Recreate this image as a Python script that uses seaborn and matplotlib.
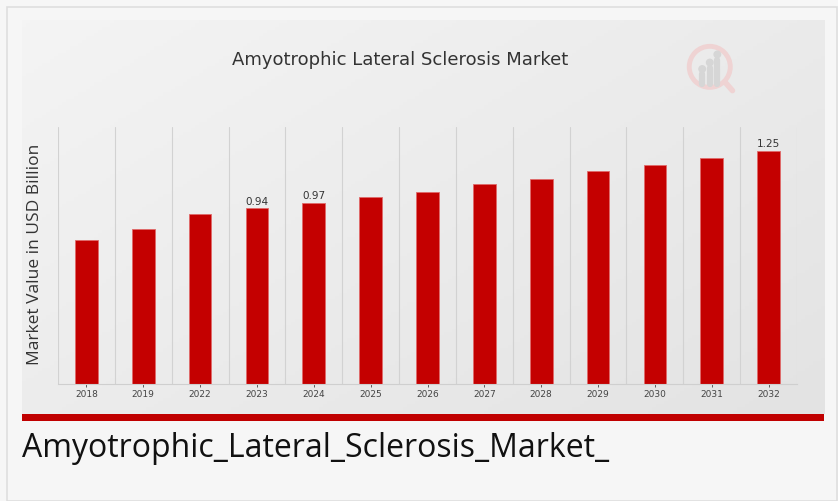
import numpy as np
import pandas as pd
import matplotlib
matplotlib.use("Agg")
import matplotlib.pyplot as plt
from matplotlib.patches import Rectangle, Circle
import seaborn as sns

# datos del grafico
years = ["2018", "2019", "2022", "2023", "2024", "2025", "2026",
         "2027", "2028", "2029", "2030", "2031", "2032"]
values = [0.77, 0.83, 0.91, 0.94, 0.97, 1.00, 1.03,
          1.07, 1.10, 1.14, 1.17, 1.21, 1.25]
shown = {"2023": "0.94", "2024": "0.97", "2032": "1.25"}

titulo = "Amyotrophic Lateral Sclerosis Market"
ylab = "Market Value in USD Billion"
pie = "Amyotrophic_Lateral_Sclerosis_Market_"

df = pd.DataFrame({"year": years, "value": values})

sns.set_theme(style="white")
plt.rcParams["font.family"] = ["DejaVu Sans"]

W, H = 838, 501
fig = plt.figure(figsize=(W / 100, H / 100), dpi=100)
fig.patch.set_facecolor("#f6f6f6")

def px(x0, y0, x1, y1):
    # caja en pixeles -> coordenadas de figura
    return [x0 / W, 1 - y1 / H, (x1 - x0) / W, (y1 - y0) / H]

# borde exterior
fig.patches.append(Rectangle((7 / W, 0), 1 - 8 / W, 1 - 7 / H, transform=fig.transFigure,
                             facecolor="none", edgecolor="#dedede", lw=1.2, zorder=0))

# panel con degradado
bg = fig.add_axes(px(22, 20, 824, 414), zorder=0)
gx, gy = np.meshgrid(np.linspace(0, 1, 200), np.linspace(0, 1, 120))
grad = 0.55 * gx + 0.45 * gy
bg.imshow(grad, cmap=matplotlib.colors.LinearSegmentedColormap.from_list("g", ["#f4f4f4", "#e3e3e3"]),
          aspect="auto", extent=[0, 1, 1, 0])
bg.set_axis_off()

# banda roja
fig.patches.append(Rectangle((22 / W, 1 - 421 / H), 802 / W, 7 / H, transform=fig.transFigure,
                             facecolor="#c00000", edgecolor="none", zorder=1))

# logo tenue
lg = fig.add_axes(px(686, 42, 740, 96), zorder=1)
lg.set_xlim(0, 1); lg.set_ylim(0, 1); lg.set_axis_off()
lg.add_patch(Circle((0.44, 0.54), 0.38, fill=False, ec="#efd3d3", lw=3.5))
lg.plot([0.72, 0.86], [0.26, 0.1], color="#efd3d3", lw=4, solid_capstyle="round")
for bx, bh in [(0.3, 0.18), (0.44, 0.3), (0.58, 0.45)]:
    lg.plot([bx, bx], [0.22, 0.22 + bh], color="#d6d6d6", lw=4.5, solid_capstyle="round")
    lg.add_patch(Circle((bx, 0.22 + bh + 0.1), 0.06, color="#d6d6d6"))

# grafico principal
ax = fig.add_axes(px(58, 127, 797, 384), zorder=2)
ax.patch.set_alpha(0)
sns.barplot(data=df, x="year", y="value", color="#c40000", width=0.4,
            edgecolor="#e06a6a", linewidth=0.6, saturation=1, ax=ax)
ax.set_xlim(-0.5, len(years) - 0.5)
ax.set_ylim(0, 1.376)
ax.set_xticks(np.arange(-0.5, len(years)), minor=True)
ax.grid(axis="x", which="minor", color="#d2d2d2", lw=0.8)
ax.grid(axis="x", which="major", visible=False)
ax.set_yticks([])
for s in ["top", "left", "right"]:
    ax.spines[s].set_visible(False)
ax.spines["bottom"].set_color("#cfcfcf")
ax.spines["bottom"].set_linewidth(0.8)
ax.tick_params(axis="x", which="major", labelsize=6.5, colors="#444444", length=2, width=0.6, pad=2, bottom=True)
ax.tick_params(axis="x", which="minor", length=0)
ax.set_xlabel("")
ax.set_ylabel("")

for i, (yr, v) in enumerate(zip(years, values)):
    if yr in shown:
        ax.text(i, v + 0.01, shown[yr], ha="center", va="bottom", fontsize=7.5, color="#333333")

fig.text(400 / W, 1 - 60 / H, titulo, ha="center", va="center", fontsize=13, color="#333333")
fig.text(35 / W, 1 - 254 / H, ylab, ha="center", va="center", rotation=90,
         fontsize=12.5, color="#333333", family=["Open Sans", "DejaVu Sans"])
fig.text(22 / W, 1 - 457 / H, pie, ha="left", va="baseline", fontsize=23, color="#111111",
         family=["Open Sans", "DejaVu Sans"])

fig.savefig("out.png", dpi=100, facecolor=fig.get_facecolor())
